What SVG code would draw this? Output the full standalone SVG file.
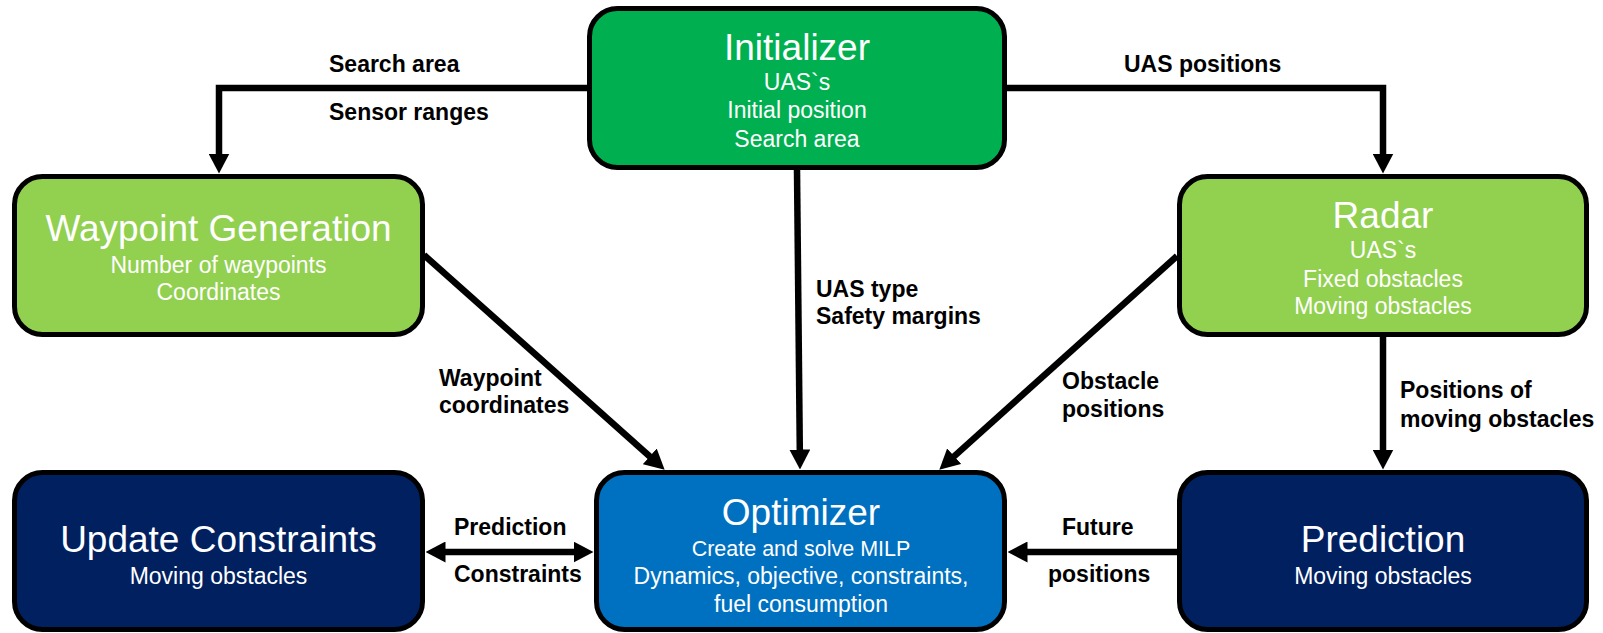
<svg xmlns="http://www.w3.org/2000/svg" width="1603" height="633" viewBox="0 0 1603 633">
<style>
.box{stroke:#000;stroke-width:5}
.t{font-family:"Liberation Sans",Arial,sans-serif;fill:#fff;text-anchor:middle}
.h{font-size:37px}
.s{font-size:23px}
.lbl{font-family:"Liberation Sans",Arial,sans-serif;font-weight:bold;font-size:23px;fill:#000}
.c{fill:none;stroke:#000;stroke-width:6.5}
</style>
<defs>
<marker id="ah" viewBox="0 0 20 21" markerWidth="20" markerHeight="21" refX="0.5" refY="10.5" orient="auto-start-reverse" markerUnits="userSpaceOnUse">
<path d="M0,0 L20,10.5 L0,21 z" fill="#000"/>
</marker>
</defs>
<rect width="1603" height="633" fill="#fff"/>
<g id="connectors">
<path class="c" d="M587 88 H219 V154" marker-end="url(#ah)"/>
<path class="c" d="M1007 88 H1383 V154" marker-end="url(#ah)"/>
<path class="c" d="M797 170 L799.8 450" marker-end="url(#ah)"/>
<path class="c" d="M424 255 L650.1 456.7" marker-end="url(#ah)"/>
<path class="c" d="M1177 256 L953.8 456.6" marker-end="url(#ah)"/>
<path class="c" d="M1383 337 V450" marker-end="url(#ah)"/>
<path class="c" d="M1177 552 H1027" marker-end="url(#ah)"/>
<path class="c" d="M445 552 H574" marker-start="url(#ah)" marker-end="url(#ah)"/>
<text class="lbl" x="329" y="72">Search area</text>
<text class="lbl" x="329" y="120">Sensor ranges</text>
<text class="lbl" x="1124" y="72">UAS positions</text>
<text class="lbl" x="816" y="297">UAS type</text>
<text class="lbl" x="816" y="324">Safety margins</text>
<text class="lbl" x="439" y="386">Waypoint</text>
<text class="lbl" x="439" y="413">coordinates</text>
<text class="lbl" x="1062" y="389">Obstacle</text>
<text class="lbl" x="1062" y="417">positions</text>
<text class="lbl" x="1400" y="398">Positions of</text>
<text class="lbl" x="1400" y="427">moving obstacles</text>
<text class="lbl" x="1062" y="535">Future</text>
<text class="lbl" x="1048" y="582">positions</text>
<text class="lbl" x="454" y="535">Prediction</text>
<text class="lbl" x="454" y="582">Constraints</text>
</g>
<g id="initializer">
<rect class="box" x="589.5" y="8.5" width="415" height="159" rx="28" fill="#00B050"/>
<text class="t h" x="797" y="60">Initializer</text>
<text class="t s" x="797" y="90">UAS`s</text>
<text class="t s" x="797" y="118">Initial position</text>
<text class="t s" x="797" y="147">Search area</text>
</g>
<g id="waypoint-generation">
<rect class="box" x="14.5" y="176.5" width="408" height="158" rx="28" fill="#92D050"/>
<text class="t h" x="218.5" y="241">Waypoint Generation</text>
<text class="t s" x="218.5" y="273">Number of waypoints</text>
<text class="t s" x="218.5" y="300">Coordinates</text>
</g>
<g id="radar">
<rect class="box" x="1179.5" y="176.5" width="407" height="158" rx="28" fill="#92D050"/>
<text class="t h" x="1383" y="228">Radar</text>
<text class="t s" x="1383" y="258">UAS`s</text>
<text class="t s" x="1383" y="287">Fixed obstacles</text>
<text class="t s" x="1383" y="314">Moving obstacles</text>
</g>
<g id="update-constraints">
<rect class="box" x="14.5" y="472.5" width="408" height="157" rx="28" fill="#002060"/>
<text class="t h" x="218.5" y="552">Update Constraints</text>
<text class="t s" x="218.5" y="584">Moving obstacles</text>
</g>
<g id="optimizer">
<rect class="box" x="596.5" y="472.5" width="408" height="157" rx="28" fill="#0070C0"/>
<text class="t h" x="801" y="525">Optimizer</text>
<text class="t" x="801" y="556" style="font-size:21.5px">Create and solve MILP</text>
<text class="t s" x="801" y="584">Dynamics, objective, constraints,</text>
<text class="t s" x="801" y="612">fuel consumption</text>
</g>
<g id="prediction">
<rect class="box" x="1179.5" y="472.5" width="407" height="157" rx="28" fill="#002060"/>
<text class="t h" x="1383" y="552">Prediction</text>
<text class="t s" x="1383" y="584">Moving obstacles</text>
</g>
</svg>
